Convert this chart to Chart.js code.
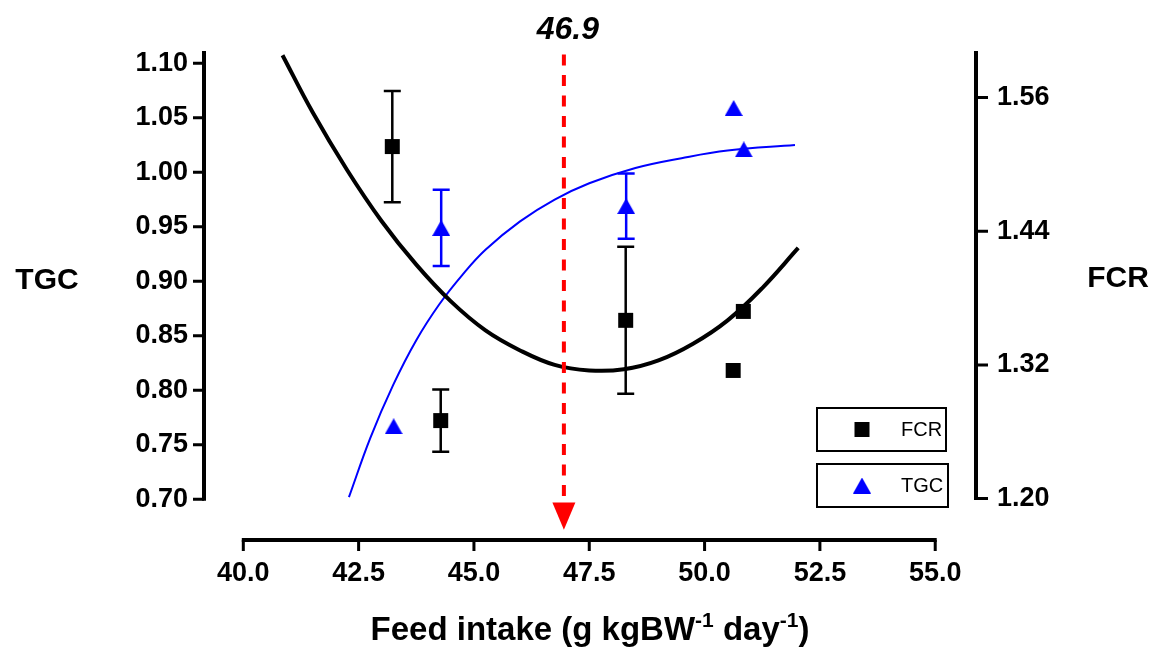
<!DOCTYPE html>
<html>
<head>
<meta charset="utf-8">
<title>TGC and FCR vs feed intake</title>
<script src="https://cdn.jsdelivr.net/npm/chart.js@4.4.1/dist/chart.umd.min.js"></script>
<style>
  html, body { margin: 0; padding: 0; background: #fff; }
  #chart { display: block; }
</style>
</head>
<body>
<canvas id="chart" width="1157" height="648"></canvas>
<script>
// ===============================
// Data
// ===============================
var xTicks = [40.0, 42.5, 45.0, 47.5, 50.0, 52.5, 55.0];
var tgcTicks = [0.70, 0.75, 0.80, 0.85, 0.90, 0.95, 1.00, 1.05, 1.10];
var fcrTicks = [1.20, 1.32, 1.44, 1.56];

// FCR means (right axis) with +/- error
var fcrFeed = [43.23, 44.28, 48.29, 50.62, 50.84];
var fcrMean = [1.516, 1.270, 1.360, 1.315, 1.368];
var fcrErr  = [0.050, 0.028, 0.066, 0, 0];

// TGC means (left axis) with +/- error
var tgcFeed = [43.26, 44.29, 48.30, 50.63, 50.85];
var tgcMean = [0.767, 0.949, 0.969, 1.059, 1.021];
var tgcErr  = [0, 0.035, 0.030, 0, 0];

// fitted curves, points
var fcrFitX = [40.85, 41.50, 42.25, 43.00, 43.75, 44.50, 45.25, 46.00, 46.75, 47.50, 48.25, 49.00, 49.75, 50.50, 51.25, 52.03];
var fcrFitY = [1.598, 1.547, 1.495, 1.449, 1.410, 1.377, 1.351, 1.333, 1.320, 1.315, 1.316, 1.324, 1.339, 1.360, 1.389, 1.425];
var tgcFitX = [42.29, 42.75, 43.25, 43.75, 44.25, 44.75, 45.25, 46.00, 46.75, 47.50, 48.50, 49.50, 50.50, 51.96];
var tgcFitY = [0.702, 0.756, 0.805, 0.846, 0.879, 0.906, 0.929, 0.955, 0.975, 0.990, 1.004, 1.013, 1.020, 1.025];

// optimum marker (dashed arrow), in TGC axis units
var optimumX = 46.95;
var optimumLabel = "46.9";
var arrowTop = 1.108;
var arrowBase = 0.697;
var arrowTip = 0.672;

var FONT = "'Liberation Sans', Arial, sans-serif";

function toPoints(xs, ys) {
    return xs.map(function(x, i) { return { x: x, y: ys[i] }; });
}

// blue triangle marker, centred on its box like the original
var triangle = document.createElement("canvas");
triangle.width = 18;
triangle.height = 16;
(function() {
    var c = triangle.getContext("2d");
    c.fillStyle = "#0000ff";
    c.beginPath();
    c.moveTo(9, 0);
    c.lineTo(18, 16);
    c.lineTo(0, 16);
    c.closePath();
    c.fill();
})();

// ===============================
// Plugin: error bars (under the markers)
// ===============================
var errorBars = {
    id: "errorBars",
    beforeDatasetsDraw: function(chart) {
        var ctx = chart.ctx;
        var x = chart.scales.x;
        ctx.save();
        chart.data.datasets.forEach(function(ds) {
            if (!ds.errors) return;
            var y = chart.scales[ds.yAxisID];
            ctx.strokeStyle = ds.borderColor;
            ctx.lineWidth = 2.5;
            ds.data.forEach(function(p, i) {
                var e = ds.errors[i];
                if (!e) return;
                var px = x.getPixelForValue(p.x);
                var top = y.getPixelForValue(p.y + e);
                var bot = y.getPixelForValue(p.y - e);
                ctx.beginPath();
                ctx.moveTo(px, top); ctx.lineTo(px, bot);
                ctx.moveTo(px - 8.5, top); ctx.lineTo(px + 8.5, top);
                ctx.moveTo(px - 8.5, bot); ctx.lineTo(px + 8.5, bot);
                ctx.stroke();
            });
        });
        ctx.restore();
    }
};

// ===============================
// Plugin: dashed red arrow at the optimum
// ===============================
var optimumArrow = {
    id: "optimumArrow",
    afterDatasetsDraw: function(chart) {
        var ctx = chart.ctx;
        var px = chart.scales.x.getPixelForValue(optimumX);
        var y = chart.scales.y;
        var yTop = y.getPixelForValue(arrowTop);
        var yBase = y.getPixelForValue(arrowBase);
        var yTip = y.getPixelForValue(arrowTip);
        ctx.save();
        ctx.strokeStyle = "#ff0000";
        ctx.fillStyle = "#ff0000";
        ctx.lineWidth = 4;
        ctx.setLineDash([11, 9.5]);
        ctx.beginPath();
        ctx.moveTo(px, yTop);
        ctx.lineTo(px, yBase);
        ctx.stroke();
        ctx.setLineDash([]);
        ctx.beginPath();
        ctx.moveTo(px - 11.5, yBase);
        ctx.lineTo(px + 11.5, yBase);
        ctx.lineTo(px, yTip);
        ctx.closePath();
        ctx.fill();
        // label
        ctx.fillStyle = "#000";
        ctx.font = "italic bold 32px " + FONT;
        ctx.textAlign = "center";
        ctx.textBaseline = "alphabetic";
        ctx.fillText(optimumLabel, px + 4, 39);
        ctx.restore();
    }
};

// ===============================
// Plugin: Prism style offset axes, titles and boxed legend
// ===============================
var prismAxes = {
    id: "prismAxes",
    afterDraw: function(chart) {
        var ctx = chart.ctx;
        var area = chart.chartArea;
        var x = chart.scales.x, yL = chart.scales.y, yR = chart.scales.yR;
        ctx.save();
        ctx.strokeStyle = "#000";
        ctx.lineCap = "butt";

        // axis lines
        ctx.lineWidth = 4;
        ctx.beginPath();
        ctx.moveTo(area.left, area.top);
        ctx.lineTo(area.left, yL.getPixelForValue(tgcTicks[0]) + 1.5);
        ctx.moveTo(area.right, area.top);
        ctx.lineTo(area.right, yR.getPixelForValue(fcrTicks[0]) + 1.5);
        ctx.moveTo(x.getPixelForValue(xTicks[0]) - 1.5, area.bottom);
        ctx.lineTo(x.getPixelForValue(xTicks[xTicks.length - 1]) + 1.5, area.bottom);
        ctx.stroke();

        // tick marks
        ctx.lineWidth = 3;
        ctx.beginPath();
        tgcTicks.forEach(function(v) {
            var py = yL.getPixelForValue(v);
            ctx.moveTo(area.left - 11, py); ctx.lineTo(area.left, py);
        });
        fcrTicks.forEach(function(v) {
            var py = yR.getPixelForValue(v);
            ctx.moveTo(area.right, py); ctx.lineTo(area.right + 12, py);
        });
        xTicks.forEach(function(v) {
            var px = x.getPixelForValue(v);
            ctx.moveTo(px, area.bottom); ctx.lineTo(px, area.bottom + 11);
        });
        ctx.stroke();

        // axis titles
        ctx.fillStyle = "#000";
        ctx.font = "bold 30px " + FONT;
        ctx.textAlign = "center";
        ctx.textBaseline = "middle";
        ctx.fillText("TGC", 47, 281);
        ctx.fillText("FCR", 1118, 279);

        // x title with superscripts
        var parts = [
            ["Feed intake (g kgBW", false],
            ["-1", true],
            [" day", false],
            ["-1", true],
            [")", false]
        ];
        var big = "bold 33px " + FONT, small = "bold 21px " + FONT;
        var total = 0;
        parts.forEach(function(p) {
            ctx.font = p[1] ? small : big;
            total += ctx.measureText(p[0]).width;
        });
        var cx = 590 - total / 2;
        ctx.textAlign = "left";
        ctx.textBaseline = "alphabetic";
        parts.forEach(function(p) {
            ctx.font = p[1] ? small : big;
            ctx.fillText(p[0], cx, p[1] ? 627 : 640);
            cx += ctx.measureText(p[0]).width;
        });

        // boxed legend, one box per series
        var boxes = [
            { ds: chart.data.datasets[0], top: 408, w: 129 },
            { ds: chart.data.datasets[1], top: 464, w: 131 }
        ];
        boxes.forEach(function(b) {
            ctx.lineWidth = 2;
            ctx.strokeRect(817, b.top, b.w, 43);
            var my = b.top + 21.5;
            if (b.ds.pointStyle === "rect") {
                ctx.fillStyle = b.ds.backgroundColor;
                ctx.fillRect(862 - 7.5, my - 7.5, 15, 15);
            } else {
                ctx.drawImage(b.ds.pointStyle, 862 - 9, my - 8);
            }
            ctx.fillStyle = "#000";
            ctx.font = "20px " + FONT;
            ctx.textAlign = "left";
            ctx.textBaseline = "middle";
            ctx.fillText(b.ds.label, 901, my + 1);
        });
        ctx.restore();
    }
};

// ===============================
// Chart
// ===============================
var tickFont = { family: FONT, size: 27, weight: "bold" };

var chart = new Chart(document.getElementById("chart").getContext("2d"), {
    type: "scatter",
    data: {
        datasets: [
            {
                label: "FCR",
                data: toPoints(fcrFeed, fcrMean),
                errors: fcrErr,
                yAxisID: "yR",
                pointStyle: "rect",
                pointRadius: 10.6,
                pointHoverRadius: 10.6,
                backgroundColor: "#000",
                borderColor: "#000",
                borderWidth: 0
            },
            {
                label: "TGC",
                data: toPoints(tgcFeed, tgcMean),
                errors: tgcErr,
                yAxisID: "y",
                pointStyle: triangle,
                backgroundColor: "#0000ff",
                borderColor: "#0000ff",
                borderWidth: 0
            },
            {
                label: "FCR fit",
                data: toPoints(fcrFitX, fcrFitY),
                yAxisID: "yR",
                showLine: true,
                tension: 0.4,
                borderColor: "#000",
                borderWidth: 4,
                pointRadius: 0
            },
            {
                label: "TGC fit",
                data: toPoints(tgcFitX, tgcFitY),
                yAxisID: "y",
                showLine: true,
                tension: 0.4,
                borderColor: "#0000ff",
                borderWidth: 2,
                pointRadius: 0
            }
        ]
    },
    options: {
        responsive: false,
        animation: false,
        layout: { padding: { top: 51, left: 0, right: 0, bottom: 0 } },
        plugins: {
            legend: { display: false },
            title: { display: false },
            tooltip: { enabled: false }
        },
        scales: {
            x: {
                type: "linear",
                min: 39.148,
                max: 55.884,
                grid: { display: false, drawTicks: false },
                border: { display: false },
                afterBuildTicks: function(scale) {
                    scale.ticks = xTicks.map(function(v) { return { value: v }; });
                },
                afterFit: function(scale) { scale.height = 108; },
                ticks: {
                    autoSkip: false,
                    maxRotation: 0,
                    padding: 17,
                    color: "#000",
                    font: tickFont,
                    callback: function(v) { return Number(v).toFixed(1); }
                }
            },
            y: {
                position: "left",
                min: 0.6627,
                max: 1.1113,
                grid: { display: false, drawTicks: false },
                border: { display: false },
                afterBuildTicks: function(scale) {
                    scale.ticks = tgcTicks.map(function(v) { return { value: v }; });
                },
                afterFit: function(scale) { scale.width = 204; },
                ticks: {
                    padding: 16,
                    color: "#000",
                    font: tickFont,
                    callback: function(v) { return Number(v).toFixed(2); }
                }
            },
            yR: {
                position: "right",
                min: 1.1628,
                max: 1.6018,
                grid: { display: false, drawTicks: false },
                border: { display: false },
                afterBuildTicks: function(scale) {
                    scale.ticks = fcrTicks.map(function(v) { return { value: v }; });
                },
                afterFit: function(scale) { scale.width = 181; },
                ticks: {
                    padding: 21,
                    color: "#000",
                    font: tickFont,
                    callback: function(v) { return Number(v).toFixed(2); }
                }
            }
        }
    },
    plugins: [errorBars, optimumArrow, prismAxes]
});
</script>
</body>
</html>
